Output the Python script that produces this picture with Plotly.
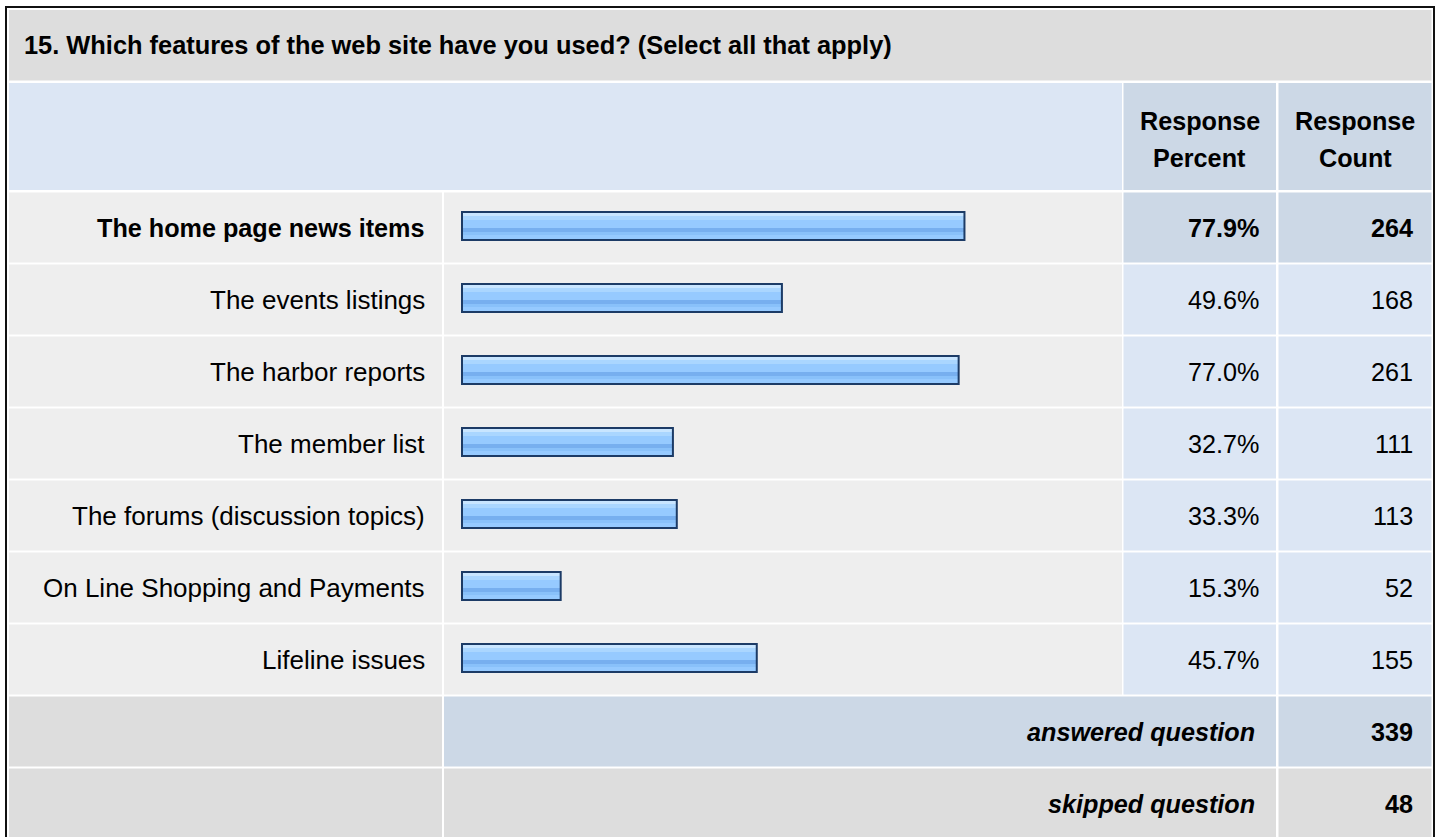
"""Survey question 15: feature usage, drawn as a SurveyMonkey-style result table."""

import plotly.graph_objects as go

# ─── Data ─────────────────────────────────────────────────────────────────── #

question = "15. Which features of the web site have you used? (Select all that apply)"
features = [
    "The home page news items",
    "The events listings",
    "The harbor reports",
    "The member list",
    "The forums (discussion topics)",
    "On Line Shopping and Payments",
    "Lifeline issues",
]
percents = [77.9, 49.6, 77.0, 32.7, 33.3, 15.3, 45.7]
counts = [264, 168, 261, 111, 113, 52, 155]
header_top = ["Response", "Response"]
header_bottom = ["Percent", "Count"]
summary_labels = ["answered question", "skipped question"]
summary_counts = [339, 48]
highlight_row = 0  # first row is shown in bold

# ─── Layout (pixels) ──────────────────────────────────────────────────────── #

W, H = 1440, 837
FONT = "Arial, 'Liberation Sans', sans-serif"
FS = 25.2

COL_L = (9, 442)        # label column
COL_B = (444, 1122)     # bar column
COL_P = (1123.5, 1276)  # percent column
COL_C = (1278.5, 1431.5)  # count column

ROW_TOP, ROW_PITCH, CELL_H = 192.5, 72, 70
ROW_MID = ROW_TOP + CELL_H / 2

X_ZERO, X_SCALE = 462, 6.45  # px of 0 %, px per %

GRAY, LIGHT, BLUE, BLUE_DK = "#DDDDDD", "#EEEEEE", "#DCE6F4", "#CCD8E6"


def px(x):
    return x / W


def py(y):
    return 1 - y / H


shapes = []


def cell(x0, x1, y0, y1, color):
    shapes.append(dict(
        type="rect", xref="paper", yref="paper",
        x0=px(x0), x1=px(x1), y0=py(y1), y1=py(y0),
        fillcolor=color, line_width=0, layer="below",
    ))


# title + header
cell(COL_L[0], COL_C[1], 10, 80.5, GRAY)
cell(COL_L[0], COL_B[1], 83, 190, BLUE)
cell(*COL_P, 83, 190, BLUE_DK)
cell(*COL_C, 83, 190, BLUE_DK)

# data rows
for i in range(len(features)):
    y0 = ROW_TOP + i * ROW_PITCH
    num_bg = BLUE_DK if i == highlight_row else BLUE
    cell(*COL_L, y0, y0 + CELL_H, LIGHT)
    cell(*COL_B, y0, y0 + CELL_H, LIGHT)
    cell(*COL_P, y0, y0 + CELL_H, num_bg)
    cell(*COL_C, y0, y0 + CELL_H, num_bg)

# summary rows
for k, bg in enumerate([BLUE_DK, GRAY]):
    y0 = ROW_TOP + (len(features) + k) * ROW_PITCH
    cell(*COL_L, y0, y0 + CELL_H, GRAY)
    cell(COL_B[0], COL_P[1], y0, y0 + CELL_H, bg)
    cell(*COL_C, y0, y0 + CELL_H, bg)

# outer frame
shapes.append(dict(
    type="rect", xref="paper", yref="paper",
    x0=px(6), x1=px(1434), y0=py(H + 6), y1=py(7),
    line=dict(color="#111111", width=2), fillcolor="rgba(0,0,0,0)", layer="above",
))

# ─── Bars ─────────────────────────────────────────────────────────────────── #

rows = list(range(len(features)))
BAR_TOP, BAR_H = 212, 28
bar_off = (BAR_TOP - ROW_MID) / ROW_PITCH
bar_w = BAR_H / ROW_PITCH

fig = go.Figure()
fig.add_trace(go.Bar(
    x=percents, y=rows, orientation="h", width=bar_w, offset=bar_off,
    marker=dict(color="#96CAFF", line_width=0),
))
# glossy stripes (top px, bottom px, colour) inside the bar
for a, b, color in [(0, 4, "#C8E5FF"), (4, 8, "#AAD6FF"), (16, 20, "#77AFEF"), (20, 23, "#89C1FA")]:
    fig.add_trace(go.Bar(
        x=percents, y=rows, orientation="h",
        width=(b - a) / ROW_PITCH, offset=bar_off + a / ROW_PITCH,
        marker=dict(color=color, line_width=0),
    ))
fig.add_trace(go.Bar(
    x=percents, y=rows, orientation="h", width=bar_w, offset=bar_off,
    marker=dict(color="rgba(0,0,0,0)", line=dict(color="#1C3B66", width=2)),
))

# ─── Text ─────────────────────────────────────────────────────────────────── #

ann = []


def text(s, x, y, yref="paper", anchor="right", bold=False, italic=False, size=FS):
    ann.append(dict(
        text=s, x=x, y=y, xref="paper", yref=yref,
        xanchor=anchor, yanchor="middle", showarrow=False,
        font=dict(family=FONT, size=size, color="#000000",
                  weight="bold" if bold else "normal",
                  style="italic" if italic else "normal"),
    ))


text(question, px(22), py(45), anchor="left", bold=True, size=25.4)
for k, col in enumerate([COL_P, COL_C]):
    mid = px((col[0] + col[1]) / 2)
    text(header_top[k], mid, py(121), anchor="center", bold=True)
    text(header_bottom[k], mid, py(157.5), anchor="center", bold=True)

for i, (name, pct, n) in enumerate(zip(features, percents, counts)):
    b = i == highlight_row
    text(name, px(427), i, yref="y", bold=b, size=FS if b else 26)
    text(f"{pct:.1f}%", px(1261), i, yref="y", bold=b)
    text(f"{n}", px(1415), i, yref="y", bold=b)

for k, (lab, n) in enumerate(zip(summary_labels, summary_counts)):
    r = len(features) + k
    text(lab, px(1257), r, yref="y", bold=True, italic=True)
    text(f"{n}", px(1415), r, yref="y", bold=True)

fig.update_layout(
    width=W, height=H,
    margin=dict(l=0, r=0, t=0, b=0),
    paper_bgcolor="white", plot_bgcolor="white",
    barmode="overlay", showlegend=False, hovermode=False,
    xaxis=dict(range=[-X_ZERO / X_SCALE, (W - X_ZERO) / X_SCALE], visible=False, fixedrange=True),
    yaxis=dict(range=[(H - ROW_MID) / ROW_PITCH, -ROW_MID / ROW_PITCH], visible=False, fixedrange=True),
    shapes=shapes,
    annotations=ann,
)

# the page body has a default 8px margin; drop it so the figure sits at 0,0
fig.write_html(
    "out.html",
    config={"displayModeBar": False},
    post_script="document.body.style.margin='0';document.body.style.overflow='hidden';",
)
